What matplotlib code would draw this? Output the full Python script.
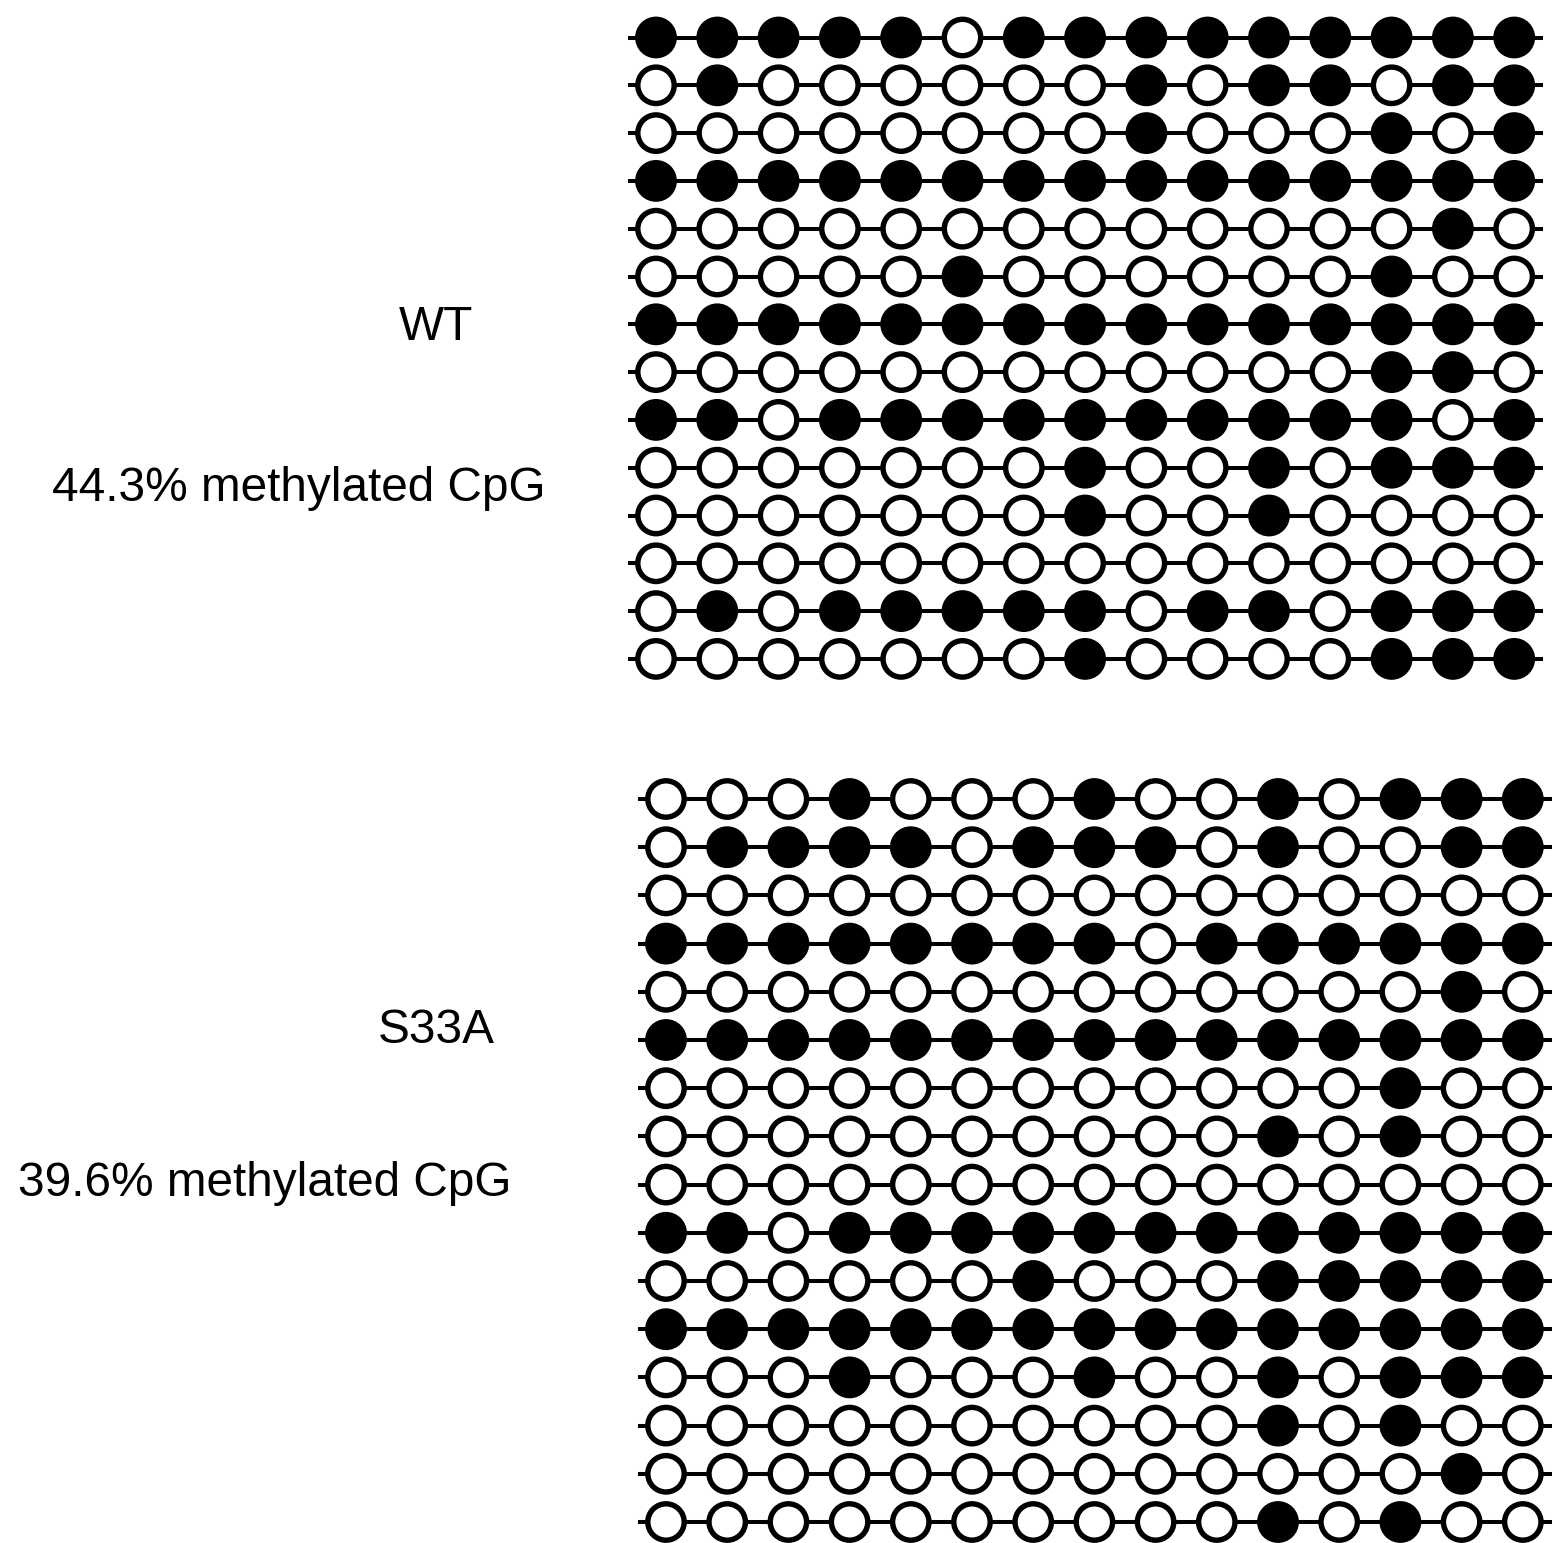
import numpy as np
import matplotlib
matplotlib.use("Agg")
import matplotlib.pyplot as plt

# Methylation states (1 = methylated / filled, 0 = unmethylated / open)
wt_rows = [
    [1,1,1,1,1,0,1,1,1,1,1,1,1,1,1],
    [0,1,0,0,0,0,0,0,1,0,1,1,0,1,1],
    [0,0,0,0,0,0,0,0,1,0,0,0,1,0,1],
    [1,1,1,1,1,1,1,1,1,1,1,1,1,1,1],
    [0,0,0,0,0,0,0,0,0,0,0,0,0,1,0],
    [0,0,0,0,0,1,0,0,0,0,0,0,1,0,0],
    [1,1,1,1,1,1,1,1,1,1,1,1,1,1,1],
    [0,0,0,0,0,0,0,0,0,0,0,0,1,1,0],
    [1,1,0,1,1,1,1,1,1,1,1,1,1,0,1],
    [0,0,0,0,0,0,0,1,0,0,1,0,1,1,1],
    [0,0,0,0,0,0,0,1,0,0,1,0,0,0,0],
    [0,0,0,0,0,0,0,0,0,0,0,0,0,0,0],
    [0,1,0,1,1,1,1,1,0,1,1,0,1,1,1],
    [0,0,0,0,0,0,0,1,0,0,0,0,1,1,1],
]
s33a_rows = [
    [0,0,0,1,0,0,0,1,0,0,1,0,1,1,1],
    [0,1,1,1,1,0,1,1,1,0,1,0,0,1,1],
    [0,0,0,0,0,0,0,0,0,0,0,0,0,0,0],
    [1,1,1,1,1,1,1,1,0,1,1,1,1,1,1],
    [0,0,0,0,0,0,0,0,0,0,0,0,0,1,0],
    [1,1,1,1,1,1,1,1,1,1,1,1,1,1,1],
    [0,0,0,0,0,0,0,0,0,0,0,0,1,0,0],
    [0,0,0,0,0,0,0,0,0,0,1,0,1,0,0],
    [0,0,0,0,0,0,0,0,0,0,0,0,0,0,0],
    [1,1,0,1,1,1,1,1,1,1,1,1,1,1,1],
    [0,0,0,0,0,0,1,0,0,0,1,1,1,1,1],
    [1,1,1,1,1,1,1,1,1,1,1,1,1,1,1],
    [0,0,0,1,0,0,0,1,0,0,1,0,1,1,1],
    [0,0,0,0,0,0,0,0,0,0,1,0,1,0,0],
    [0,0,0,0,0,0,0,0,0,0,0,0,0,1,0],
    [0,0,0,0,0,0,0,0,0,0,1,0,1,0,0],
]
group_names = ["WT", "S33A"]
percent_labels = ["44.3% methylated CpG", "39.6% methylated CpG"]

plt.rcParams['font.family'] = ['Liberation Sans', 'DejaVu Sans']

W, H = 1552, 1543
fig = plt.figure(figsize=(W / 100, H / 100), dpi=100)
ax = fig.add_axes([0, 0, 1, 1])
ax.set_xlim(0, W)
ax.set_ylim(H, 0)
ax.axis('off')

panels = [
    dict(data=wt_rows, x0=656, dx=61.3, y0=37.5, dy=47.8, name_xy=(436, 340), pct_xy=(298.5, 501)),
    dict(data=s33a_rows, x0=666, dx=61.2, y0=799, dy=48.2, name_xy=(436.5, 1043), pct_xy=(264.5, 1196)),
]

marker_s = 26.2 ** 2
edge_lw = 3.9
line_lw = 2.9

for p, name, pct in zip(panels, group_names, percent_labels):
    m = np.array(p['data'])
    nr, nc = m.shape
    xs = p['x0'] + p['dx'] * np.arange(nc)
    ys = p['y0'] + p['dy'] * np.arange(nr)
    for r in range(nr):
        ax.plot([xs[0] - 28, xs[-1] + 29], [ys[r], ys[r]], color='black', lw=line_lw,
                solid_capstyle='butt', zorder=1)
        colors = ['black' if v else 'white' for v in m[r]]
        ax.scatter(xs, np.full(nc, ys[r]), s=marker_s, c=colors, edgecolors='black',
                   linewidths=edge_lw, zorder=2)
    ax.text(p['name_xy'][0], p['name_xy'][1], name, ha='center', va='baseline', fontsize=34.4)
    ax.text(p['pct_xy'][0], p['pct_xy'][1], pct, ha='center', va='baseline', fontsize=34.4)

fig.savefig('out.png', dpi=100, facecolor='white')
